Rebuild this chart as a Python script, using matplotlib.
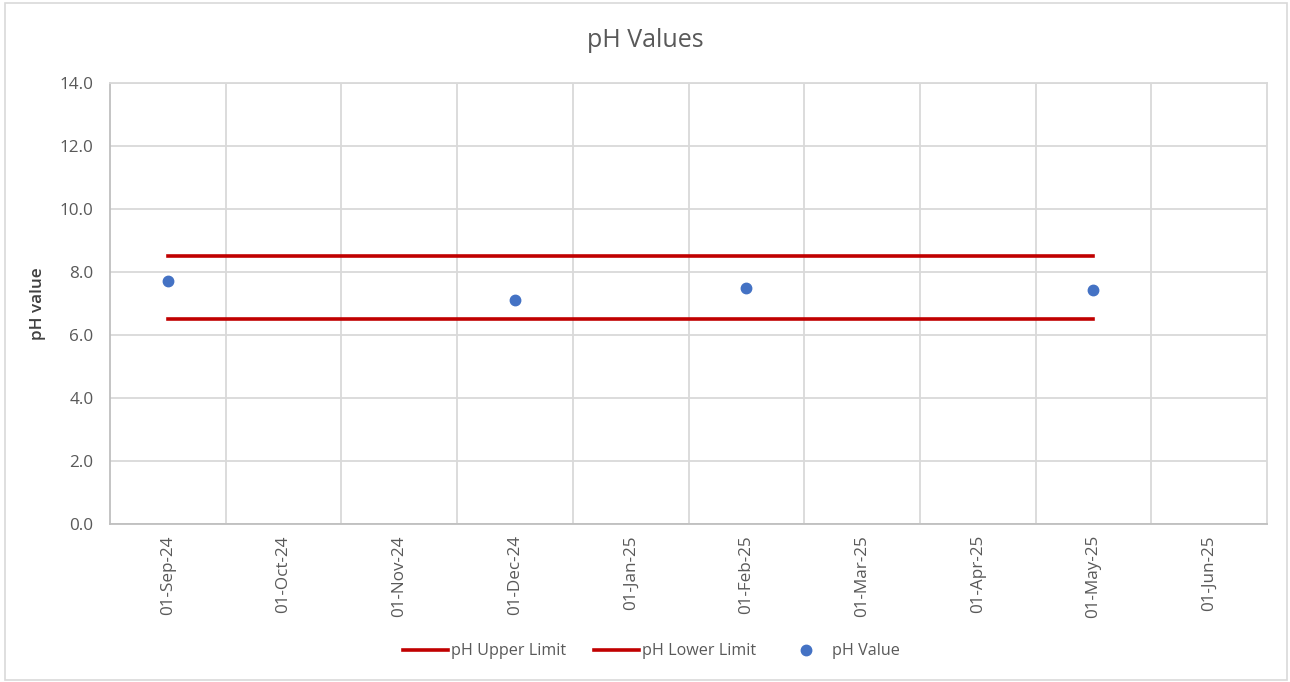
import numpy as np
import pandas as pd
import matplotlib
matplotlib.use("Agg")
import matplotlib.pyplot as plt
from matplotlib.patches import Rectangle

# category axis: one slot per month
months = ["01-Sep-24", "01-Oct-24", "01-Nov-24", "01-Dec-24", "01-Jan-25",
          "01-Feb-25", "01-Mar-25", "01-Apr-25", "01-May-25", "01-Jun-25"]

sample_dates = ["01-Sep-24", "01-Dec-24", "01-Feb-25", "01-May-25"]
ph_values = [7.72, 7.1, 7.48, 7.42]
upper_limit = [8.5, 8.5, 8.5, 8.5]
lower_limit = [6.5, 6.5, 6.5, 6.5]

grey_txt = "#595959"
grid_col = "#d9d9d9"

plt.rcParams["font.family"] = ["Open Sans", "DejaVu Sans"]

fig = plt.figure(figsize=(12.9, 6.82), dpi=100)
ax = fig.add_axes([0.0853, 0.2317, 0.8969, 0.6473])

x = [months.index(d) for d in sample_dates]

ax.plot(x, upper_limit, color="#c00000", lw=2.6, label="pH Upper Limit", zorder=3)
ax.plot(x, lower_limit, color="#c00000", lw=2.6, label="pH Lower Limit", zorder=3)
ax.plot(x, ph_values, ls="none", marker="o", ms=7.5, color="#4472c4", label="pH Value", zorder=4)

ax.set_xlim(-0.5, len(months) - 0.5)
ax.set_ylim(0, 14)
ax.set_yticks(np.arange(0, 14.1, 2))
ax.set_yticklabels([f"{v:.1f}" for v in np.arange(0, 14.1, 2)])
ax.set_xticks(range(len(months)))
ax.set_xticklabels(months, rotation=90)
ax.set_xticks(np.arange(0.5, len(months) - 0.5, 1), minor=True)

ax.grid(axis="y", which="major", color=grid_col, lw=1.3)
ax.grid(axis="x", which="minor", color=grid_col, lw=1.3)
ax.set_axisbelow(True)
ax.tick_params(which="both", length=0, labelsize=12.3, colors=grey_txt)
ax.tick_params(axis="y", pad=12)
ax.tick_params(axis="x", pad=8)

for side in ["top", "right"]:
    ax.spines[side].set_color(grid_col)
    ax.spines[side].set_linewidth(1.3)
ax.spines["left"].set_color("#bfbfbf")
ax.spines["bottom"].set_color("#bfbfbf")
ax.spines["left"].set_linewidth(1.3)
ax.spines["bottom"].set_linewidth(1.3)

ax.set_ylabel("pH value", fontsize=12.3, color="#404040", fontweight="semibold", labelpad=10)
fig.text(0.5, 0.94, "pH Values", ha="center", va="center", fontsize=18, color=grey_txt)

fig.legend(loc="center", bbox_to_anchor=(0.505, 0.045), ncol=3, frameon=False,
           fontsize=11.6, labelcolor=grey_txt, handlelength=2.8, handletextpad=0.2,
           columnspacing=1.7)

# outer chart frame
fig.patches.append(Rectangle((0.004, 0.003), 0.994, 0.992, transform=fig.transFigure,
                             fill=False, edgecolor="#d9d9d9", lw=1.2))

fig.savefig("out.png", dpi=100)
